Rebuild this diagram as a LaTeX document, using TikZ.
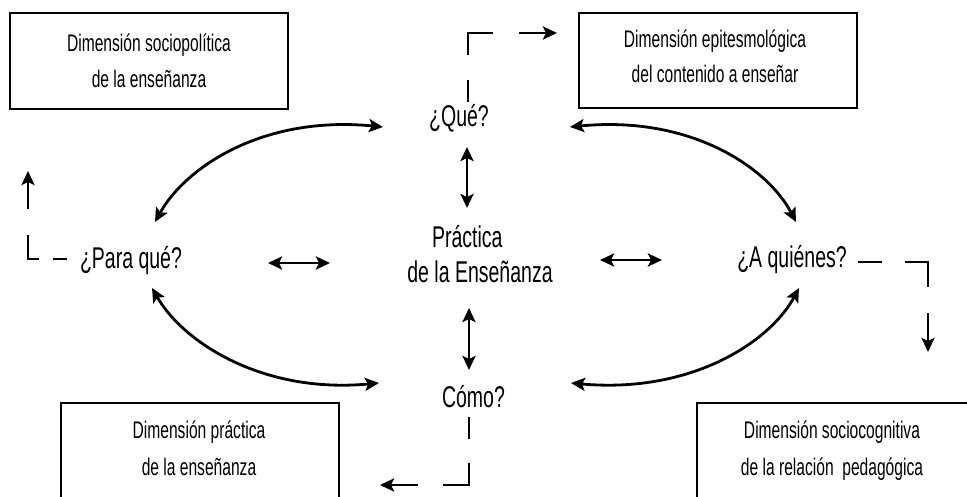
\documentclass[tikz,border=0pt]{standalone}
\usepackage{fontspec}
\setmainfont{Liberation Sans}[FakeStretch=0.65]
\usetikzlibrary{arrows.meta}
\begin{document}
\begin{tikzpicture}[x=1pt,y=-1pt,
  >={Stealth[length=14pt,width=13pt,inset=3pt]},
  lbl/.style={inner sep=0pt, anchor=base, font=\fontsize{30}{35}\selectfont},
  btxt/.style={inner sep=0pt, anchor=base},
  frame/.style={draw, line width=2.8pt, inner sep=0pt, minimum width=278pt},
  arr/.style={line width=2.8pt},
  dl/.style={line width=2.8pt}]
\useasboundingbox (0,0) rectangle (967,497);
% boxes
\node[frame, minimum height=96pt] (b1) at (149,61) {};
\node[frame, minimum height=95pt] (b2) at (718,60.5) {};
\node[frame, minimum height=97pt] (b3) at (200,451.5) {};
\node[frame, minimum height=97pt] (b4) at (836,451.5) {};
% box texts
\node[btxt] (t1) at (149,52) {\fontsize{24}{36}\selectfont\begin{tabular}[t]{@{}c@{}}Dimensión sociopolítica\\de la enseñanza\end{tabular}};
\node[btxt] (t2) at (715,48) {\fontsize{24}{35}\selectfont\begin{tabular}[t]{@{}c@{}}Dimensión epitesmológica\\del contenido a enseñar\end{tabular}};
\node[btxt] (t3) at (199,438) {\fontsize{24}{37}\selectfont\begin{tabular}[t]{@{}c@{}}Dimensión práctica\\de la enseñanza\end{tabular}};
\node[btxt] (t4) at (832,438) {\fontsize{24}{37}\selectfont\begin{tabular}[t]{@{}c@{}}Dimensión sociocognitiva\\de la relación\ \ pedagógica\end{tabular}};
% main labels
\node[lbl] (que) at (459,127) {¿Qué?};
\node[lbl] (para) at (131,269) {¿Para qué?};
\node[lbl] (aqui) at (792,268) {¿A quiénes?};
\node[lbl] (como) at (473.5,407) {Cómo?};
\node[lbl] (prac) at (480,248) {\begin{tabular}[t]{@{}c@{}}Práctica\hspace*{0.85em}\\de la Enseñanza\end{tabular}};
% endpoints
\coordinate (q1) at (383,127);
\coordinate (q2) at (570,127);
\coordinate (p1) at (155,222);
\coordinate (p2) at (152,288);
\coordinate (a1) at (796,222);
\coordinate (a2) at (799,288);
\coordinate (c1) at (379,383);
\coordinate (c2) at (571,383);
% curved arrows
\draw[arr,<->] (q1) .. controls (262,115) and (185,168) .. (p1);
\draw[arr,<->] (q2) .. controls (691,115) and (768,168) .. (a1);
\draw[arr,<->] (p2) .. controls (183,342) and (262,394) .. (c1);
\draw[arr,<->] (a2) .. controls (770,342) and (691,394) .. (c2);
% straight double arrows
\coordinate (h1a) at (268,263); \coordinate (h1b) at (330,263);
\coordinate (h2a) at (600,260); \coordinate (h2b) at (662,260);
\coordinate (v1a) at (467,147); \coordinate (v1b) at (467,208);
\coordinate (v2a) at (469,308); \coordinate (v2b) at (469,370);
\draw[arr,<->] (h1a) -- (h1b);
\draw[arr,<->] (h2a) -- (h2b);
\draw[arr,<->] (v1a) -- (v1b);
\draw[arr,<->] (v2a) -- (v2b);
% dashed connectors: top
\draw[dl] (468,102) -- (468,80);
\draw[dl] (468,55) -- (468,33) -- (493,33);
\draw[dl,->] (519,33) -- (557,33);
% left
\draw[dl] (67,259) -- (53,259);
\draw[dl] (39,259) -- (28,259) -- (28,235);
\draw[dl,->] (28,209) -- (28,171);
% right
\draw[dl] (858,262) -- (882,262);
\draw[dl] (905,262) -- (928,262) -- (928,287);
\draw[dl,->] (928,313) -- (928,352);
% bottom
\draw[dl] (469,417) -- (469,439);
\draw[dl] (469,463) -- (469,485) -- (443,485);
\draw[dl,->] (418,485) -- (380,485);
\end{tikzpicture}
\end{document}
